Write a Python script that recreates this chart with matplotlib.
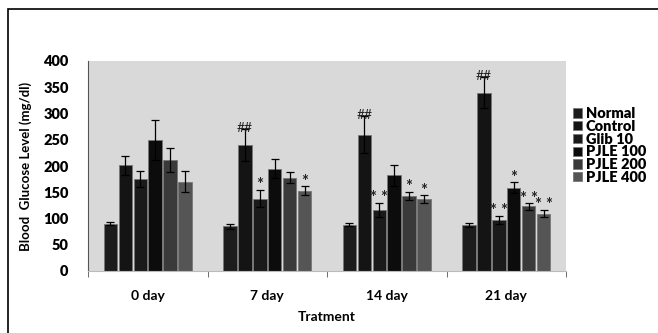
import numpy as np
import matplotlib.pyplot as plt
from matplotlib.patches import Rectangle

plt.rcParams['font.family'] = ['Lato', 'DejaVu Sans']

days = ['0 day', '7 day', '14 day', '21 day']
groups = ['Normal', 'Control', 'Glib 10', 'PJLE 100', 'PJLE 200', 'PJLE 400']

normal = [90, 85, 88, 88]
control = [201, 240, 260, 340]
glib = [175, 138, 116, 97]
pjle100 = [250, 195, 182, 159]
pjle200 = [211, 178, 143, 123]
pjle400 = [170, 153, 137, 109]

normal_err = [3, 5, 3, 4]
control_err = [18, 30, 35, 30]
glib_err = [15, 17, 14, 8]
pjle100_err = [38, 18, 20, 10]
pjle200_err = [23, 10, 8, 6]
pjle400_err = [20, 8, 7, 7]

# significance marks (group index, day index, text)
marks = [(1, 1, '##'), (2, 1, '*'), (5, 1, '*'),
         (1, 2, '##'), (2, 2, '**'), (4, 2, '*'), (5, 2, '*'),
         (1, 3, '##'), (2, 3, '**'), (3, 3, '*'), (4, 3, '**'), (5, 3, '**')]

vals = [normal, control, glib, pjle100, pjle200, pjle400]
errs = [normal_err, control_err, glib_err, pjle100_err, pjle200_err, pjle400_err]
colors = ['#1c1c1c', '#141414', '#1a1a1a', '#0c0c0c', '#3a3a3a', '#555555']

fig = plt.figure(figsize=(6.58, 3.33), dpi=100)
fig.patches.append(Rectangle((8 / 658, -0.2), 1.2, 1 - 9 / 333 + 0.2,
                             transform=fig.transFigure, fill=False,
                             edgecolor='black', linewidth=1.2))
ax = fig.add_axes([88 / 658, 1 - 271 / 333, (566 - 88) / 658, 210 / 333])
ax.set_facecolor('#d9d9d9')

x = np.arange(len(days))
w = 0.125
for i, (v, e, c) in enumerate(zip(vals, errs, colors)):
    pos = x + (i - 2.5) * w
    ax.bar(pos, v, width=w * 0.9, color=c, edgecolor='#777777', linewidth=0.6,
           label=groups[i], zorder=2)
    ax.errorbar(pos, v, yerr=e, fmt='none', ecolor='black', elinewidth=0.9,
                capsize=3, capthick=0.9, zorder=3)

for gi, di, txt in marks:
    top = vals[gi][di] + errs[gi][di]
    if txt == '##':
        ax.text(x[di] + (gi - 2.5) * w, top + 2, txt, ha='center', va='center',
                fontsize=10, color='#222222', zorder=4)
    else:
        ax.text(x[di] + (gi - 2.5) * w, top + 9, txt.replace('**', '* *'),
                ha='center', va='center', fontsize=12, fontweight='bold',
                color='#222222', zorder=4)

ax.set_xlim(-0.5, 3.5)
ax.set_ylim(0, 400)
ax.set_yticks(np.arange(0, 401, 50))
ax.set_xticks(x)
ax.set_xticklabels(days, fontsize=10, fontweight='bold')
ax.set_xticks(np.arange(-0.5, 3.6, 1), minor=True)
ax.tick_params(axis='x', which='major', length=0, pad=14)
ax.tick_params(axis='x', which='minor', length=4, color='#555555', direction='out')
ax.tick_params(axis='y', length=0, pad=14, labelsize=10.5)
for lab in ax.get_yticklabels():
    lab.set_fontweight('heavy')

for s in ['top', 'right']:
    ax.spines[s].set_visible(False)
ax.spines['left'].set_color('#555555')
ax.spines['bottom'].set_color('#bbbbbb')

ax.set_ylabel('Blood  Glucose Level (mg/dl)', fontsize=9.5, fontweight='bold', labelpad=8)
ax.set_xlabel('Tratment', fontsize=10, fontweight='bold', labelpad=6)

leg = ax.legend(loc='upper left', bbox_to_anchor=(1.015, 0.78), frameon=False,
                prop={'weight': 'heavy', 'size': 10.5}, handlelength=0.6,
                handleheight=0.6, handletextpad=0.25, labelspacing=-0.02,
                borderpad=0, borderaxespad=0)

fig.savefig('out.png', dpi=100)
